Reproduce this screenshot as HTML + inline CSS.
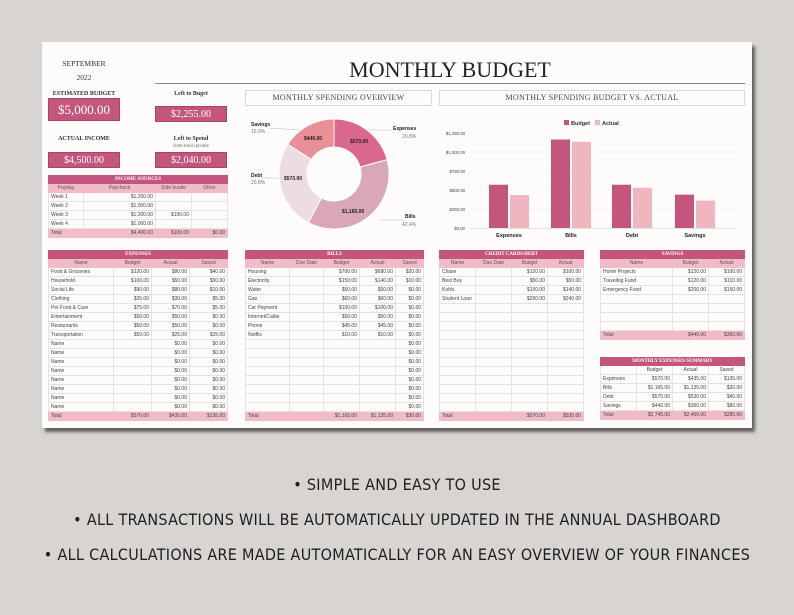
<!DOCTYPE html>
<html><head><meta charset="utf-8">
<style>
*{margin:0;padding:0;box-sizing:border-box}
body{width:794px;height:615px;background:#d7d4d1;position:relative;overflow:hidden;font-family:"Liberation Sans",sans-serif}
.card{position:absolute;left:42px;top:42px;width:710px;height:386px;background:#fdfcfb;box-shadow:3px 4px 3px rgba(0,0,0,.55)}
.a{position:absolute}
.serif{font-family:"Liberation Serif",serif}
.lbl{font-family:"Liberation Serif",serif;font-size:6px;font-weight:bold;color:#333;text-align:center}
.box{background:#c4567e;color:#fff;font-family:"Liberation Serif",serif;text-align:center;border:1px solid #a94468}
table{position:absolute;border-collapse:collapse;table-layout:fixed;font-size:5px;color:#444}
td{height:9px;border:1px solid #e8dfe1;padding:0 2px;white-space:nowrap;overflow:hidden;text-align:right;line-height:7px}
td:first-child{text-align:left}
tr.h td{background:#c4567e;color:#fff;text-align:center;font-family:"Liberation Serif",serif;font-weight:bold;height:8px;border-color:#c4567e}
tr.s td{background:#f1bcc8;text-align:center;color:#555;border-color:#f1bcc8}
tr.t td{background:#f1bcc8;border-color:#f1bcc8}
.bt{position:absolute;left:0;width:794px;text-align:center;font-family:"Liberation Sans Narrow","DejaVu Sans Condensed","Liberation Sans",sans-serif;font-size:16px;color:#1e1e1e;letter-spacing:.3px}
.ttl{position:absolute;border:1px solid #ddd6d6;font-family:"Liberation Serif",serif;font-size:8px;color:#444;text-align:center;line-height:14px;letter-spacing:.3px}
</style></head><body>
<div class="card"></div>
<div class="a serif" style="left:48px;top:59px;width:72px;text-align:center;font-size:7.5px;color:#333">SEPTEMBER</div>
<div class="a serif" style="left:48px;top:73px;width:72px;text-align:center;font-size:7.5px;color:#333">2022</div>
<div class="a serif" style="left:300px;top:57px;width:300px;text-align:center;font-size:22px;color:#222">MONTHLY BUDGET</div>
<div class="a" style="left:155px;top:83px;width:590px;height:1px;background:#888"></div>

<div class="a lbl" style="left:46px;top:91px;width:76px">ESTIMATED BUDGET</div>
<div class="a box" style="left:48px;top:98px;width:72px;height:23px;font-size:13px;line-height:22px">$5,000.00</div>
<div class="a lbl" style="left:155px;top:91px;width:72px">Left to Buget</div>
<div class="a box" style="left:155px;top:106px;width:72px;height:16px;font-size:10px;line-height:15px">$2,255.00</div>
<div class="a lbl" style="left:46px;top:136px;width:76px">ACTUAL INCOME</div>
<div class="a box" style="left:48px;top:152px;width:72px;height:16px;font-size:10px;line-height:15px">$4,500.00</div>
<div class="a lbl" style="left:155px;top:136px;width:72px">Left to Spend</div>
<div class="a serif" style="left:155px;top:144px;width:72px;text-align:center;font-size:5px;color:#666">from total income</div>
<div class="a box" style="left:155px;top:152px;width:72px;height:16px;font-size:10px;line-height:15px">$2,040.00</div>

<table style="left:48px;top:175px;width:179px">
<colgroup><col style="width:35px"><col style="width:72px"><col style="width:36px"><col style="width:36px"></colgroup>
<tr class="h"><td colspan="4">INCOME SOURCES</td></tr>
<tr class="s"><td style="text-align:center">Payday</td><td>Paycheck</td><td>Side hustle</td><td>Other</td></tr>
<tr><td>Week 1</td><td>$1,200.00</td><td></td><td></td></tr>
<tr><td>Week 2</td><td>$1,000.00</td><td></td><td></td></tr>
<tr><td>Week 3</td><td>$1,200.00</td><td>$100.00</td><td></td></tr>
<tr><td>Week 4</td><td>$1,000.00</td><td></td><td></td></tr>
<tr class="t"><td>Total</td><td>$4,400.00</td><td>$100.00</td><td>$0.00</td></tr>
</table>

<div class="ttl" style="left:245px;top:90px;width:187px;height:16px">MONTHLY SPENDING OVERVIEW</div>
<div class="ttl" style="left:439px;top:90px;width:306px;height:16px">MONTHLY SPENDING BUDGET VS. ACTUAL</div>

<svg class="a" style="left:0;top:0" width="794" height="615">
<g transform="translate(334,174)">
<!-- Expenses 0-20.8% : angle 0 to 74.9deg -->
<path d="M0,-55 A55,55 0 0 1 53.1,-14.3 L26.1,-7.0 A27,27 0 0 0 0,-27Z" fill="#d9678f" stroke="#fff" stroke-width="1"/>
<path d="M53.1,-14.3 A55,55 0 0 1 -25.6,48.7 L-12.6,23.9 A27,27 0 0 0 26.1,-7.0Z" fill="#d9a6ba" stroke="#fff" stroke-width="1"/>
<path d="M-25.6,48.7 A55,55 0 0 1 -46.3,-29.7 L-22.7,-14.6 A27,27 0 0 0 -12.6,23.9Z" fill="#ebdde1" stroke="#fff" stroke-width="1"/>
<path d="M-46.3,-29.7 A55,55 0 0 1 0,-55 L0,-27 A27,27 0 0 0 -22.7,-14.6Z" fill="#e98f95" stroke="#fff" stroke-width="1"/>
</g>
<g font-family="Liberation Sans,sans-serif" font-size="5px" font-weight="bold" fill="#222">
<text x="304" y="140">$440.00</text><text x="350" y="143">$570.00</text>
<text x="284" y="180">$570.00</text><text x="342" y="213">$1,165.00</text>
<text x="251" y="126">Savings</text><text x="393" y="130">Expenses</text>
<text x="251" y="177">Debt</text><text x="405" y="218">Bills</text>
</g>
<g font-family="Liberation Sans,sans-serif" font-size="5px" fill="#777">
<text x="251" y="133">16.0%</text><text x="402" y="138">20.8%</text>
<text x="251" y="184">20.8%</text><text x="402" y="226">42.4%</text>
</g>
<g stroke="#bbb" stroke-width=".5"><line x1="268" y1="128" x2="300" y2="130"/><line x1="368" y1="130" x2="392" y2="130"/><line x1="262" y1="178" x2="282" y2="178"/><line x1="380" y1="220" x2="404" y2="220"/></g>

<!-- bar chart -->
<g stroke="#eee" stroke-width=".6">
<line x1="470" y1="133" x2="737" y2="133"/><line x1="470" y1="152" x2="737" y2="152"/><line x1="470" y1="171" x2="737" y2="171"/><line x1="470" y1="190" x2="737" y2="190"/><line x1="470" y1="209" x2="737" y2="209"/></g>
<line x1="470" y1="228.5" x2="737" y2="228.5" stroke="#ccc" stroke-width=".6"/>
<g font-family="Liberation Sans,sans-serif" font-size="4.3px" fill="#444" text-anchor="end">
<text x="465" y="135">$1,250.00</text><text x="465" y="154">$1,000.00</text><text x="465" y="173">$750.00</text><text x="465" y="192">$500.00</text><text x="465" y="211">$250.00</text><text x="465" y="230">$0.00</text></g>
<rect x="564" y="120" width="5" height="5" fill="#c4567e"/><text x="571" y="125" font-family="Liberation Sans,sans-serif" font-size="5.5px" font-weight="bold" fill="#333">Budget</text>
<rect x="595" y="120" width="5" height="5" fill="#f0b6bf"/><text x="602" y="125" font-family="Liberation Sans,sans-serif" font-size="5.5px" font-weight="bold" fill="#333">Actual</text>
<g fill="#c4567e">
<rect x="489" y="184.7" width="19" height="43.3"/><rect x="551" y="139.5" width="19" height="88.5"/><rect x="612" y="184.7" width="19" height="43.3"/><rect x="675" y="194.6" width="19" height="33.4"/></g>
<g fill="#f0b6bf">
<rect x="510" y="195" width="19" height="33"/><rect x="572" y="141.7" width="19" height="86.3"/><rect x="633" y="187.7" width="19" height="40.3"/><rect x="696" y="200.6" width="19" height="27.4"/></g>
<g font-family="Liberation Sans,sans-serif" font-size="5.5px" font-weight="bold" fill="#222" text-anchor="middle">
<text x="509" y="237">Expenses</text><text x="571" y="237">Bills</text><text x="632" y="237">Debt</text><text x="695" y="237">Savings</text></g>
</svg>

<table style="left:48px;top:250px;width:179px">
<colgroup><col style="width:65px"><col style="width:38px"><col style="width:38px"><col style="width:38px"></colgroup>
<tr class="h"><td colspan="4">EXPENSES</td></tr>
<tr class="s"><td style="text-align:center">Name</td><td>Budget</td><td>Actual</td><td>Saved</td></tr>
<tr><td>Food &amp; Groceries</td><td>$120.00</td><td>$80.00</td><td>$40.00</td></tr>
<tr><td>Household</td><td>$100.00</td><td>$50.00</td><td>$50.00</td></tr>
<tr><td>Social Life</td><td>$90.00</td><td>$80.00</td><td>$10.00</td></tr>
<tr><td>Clothing</td><td>$35.00</td><td>$30.00</td><td>$5.00</td></tr>
<tr><td>Pet Food &amp; Care</td><td>$75.00</td><td>$70.00</td><td>$5.00</td></tr>
<tr><td>Entertainment</td><td>$50.00</td><td>$50.00</td><td>$0.00</td></tr>
<tr><td>Restaurants</td><td>$50.00</td><td>$50.00</td><td>$0.00</td></tr>
<tr><td>Transportation</td><td>$50.00</td><td>$25.00</td><td>$25.00</td></tr>
<tr><td>Name</td><td></td><td>$0.00</td><td>$0.00</td></tr>
<tr><td>Name</td><td></td><td>$0.00</td><td>$0.00</td></tr>
<tr><td>Name</td><td></td><td>$0.00</td><td>$0.00</td></tr>
<tr><td>Name</td><td></td><td>$0.00</td><td>$0.00</td></tr>
<tr><td>Name</td><td></td><td>$0.00</td><td>$0.00</td></tr>
<tr><td>Name</td><td></td><td>$0.00</td><td>$0.00</td></tr>
<tr><td>Name</td><td></td><td>$0.00</td><td>$0.00</td></tr>
<tr><td>Name</td><td></td><td>$0.00</td><td>$0.00</td></tr>
<tr class="t"><td>Total</td><td>$570.00</td><td>$435.00</td><td>$135.00</td></tr>
</table>

<table style="left:245px;top:250px;width:178px">
<colgroup><col style="width:44px"><col style="width:34px"><col style="width:36px"><col style="width:36px"><col style="width:28px"></colgroup>
<tr class="h"><td colspan="5">BILLS</td></tr>
<tr class="s"><td style="text-align:center">Name</td><td>Due Date</td><td>Budget</td><td>Actual</td><td>Saved</td></tr>
<tr><td>Housing</td><td></td><td>$700.00</td><td>$680.00</td><td>$20.00</td></tr>
<tr><td>Electricity</td><td></td><td>$150.00</td><td>$140.00</td><td>$10.00</td></tr>
<tr><td>Water</td><td></td><td>$50.00</td><td>$50.00</td><td>$0.00</td></tr>
<tr><td>Gas</td><td></td><td>$60.00</td><td>$60.00</td><td>$0.00</td></tr>
<tr><td>Car Payment</td><td></td><td>$100.00</td><td>$100.00</td><td>$0.00</td></tr>
<tr><td>Internet/Cable</td><td></td><td>$50.00</td><td>$50.00</td><td>$0.00</td></tr>
<tr><td>Phone</td><td></td><td>$45.00</td><td>$45.00</td><td>$0.00</td></tr>
<tr><td>Netflix</td><td></td><td>$10.00</td><td>$10.00</td><td>$0.00</td></tr>
<tr><td></td><td></td><td></td><td></td><td>$0.00</td></tr>
<tr><td></td><td></td><td></td><td></td><td>$0.00</td></tr>
<tr><td></td><td></td><td></td><td></td><td>$0.00</td></tr>
<tr><td></td><td></td><td></td><td></td><td>$0.00</td></tr>
<tr><td></td><td></td><td></td><td></td><td>$0.00</td></tr>
<tr><td></td><td></td><td></td><td></td><td>$0.00</td></tr>
<tr><td></td><td></td><td></td><td></td><td>$0.00</td></tr>
<tr><td></td><td></td><td></td><td></td><td>$0.00</td></tr>
<tr class="t"><td>Total</td><td></td><td>$1,165.00</td><td>$1,135.00</td><td>$30.00</td></tr>
</table>

<table style="left:439px;top:250px;width:144px">
<colgroup><col style="width:36px"><col style="width:36px"><col style="width:36px"><col style="width:36px"></colgroup>
<tr class="h"><td colspan="4">CREDIT CARDS/DEBT</td></tr>
<tr class="s"><td style="text-align:center">Name</td><td>Due Date</td><td>Budget</td><td>Actual</td></tr>
<tr><td>Chase</td><td></td><td>$120.00</td><td>$100.00</td></tr>
<tr><td>Best Buy</td><td></td><td>$50.00</td><td>$50.00</td></tr>
<tr><td>Kohls</td><td></td><td>$150.00</td><td>$140.00</td></tr>
<tr><td>Student Loan</td><td></td><td>$250.00</td><td>$240.00</td></tr>
<tr><td></td><td></td><td></td><td></td></tr><tr><td></td><td></td><td></td><td></td></tr>
<tr><td></td><td></td><td></td><td></td></tr><tr><td></td><td></td><td></td><td></td></tr>
<tr><td></td><td></td><td></td><td></td></tr><tr><td></td><td></td><td></td><td></td></tr>
<tr><td></td><td></td><td></td><td></td></tr><tr><td></td><td></td><td></td><td></td></tr>
<tr><td></td><td></td><td></td><td></td></tr><tr><td></td><td></td><td></td><td></td></tr>
<tr><td></td><td></td><td></td><td></td></tr><tr><td></td><td></td><td></td><td></td></tr>
<tr class="t"><td>Total</td><td></td><td>$570.00</td><td>$530.00</td></tr>
</table>

<table style="left:600px;top:250px;width:144px">
<colgroup><col style="width:72px"><col style="width:36px"><col style="width:36px"></colgroup>
<tr class="h"><td colspan="3">SAVINGS</td></tr>
<tr class="s"><td>Name</td><td>Budget</td><td>Actual</td></tr>
<tr><td>Home Projects</td><td>$120.00</td><td>$100.00</td></tr>
<tr><td>Traveling Fund</td><td>$120.00</td><td>$110.00</td></tr>
<tr><td>Emergency Fund</td><td>$200.00</td><td>$150.00</td></tr>
<tr><td></td><td></td><td></td></tr><tr><td></td><td></td><td></td></tr>
<tr><td></td><td></td><td></td></tr><tr><td></td><td></td><td></td></tr>
<tr class="t"><td>Total</td><td>$440.00</td><td>$360.00</td></tr>
</table>

<table style="left:600px;top:357px;width:144px">
<colgroup><col style="width:36px"><col style="width:36px"><col style="width:36px"><col style="width:36px"></colgroup>
<tr class="h"><td colspan="4">MONTHLY EXPENSES SUMMARY</td></tr>
<tr><td></td><td style="text-align:center">Budget</td><td style="text-align:center">Actual</td><td style="text-align:center">Saved</td></tr>
<tr><td>Expenses</td><td>$570.00</td><td>$435.00</td><td>$135.00</td></tr>
<tr><td>Bills</td><td>$1,165.00</td><td>$1,135.00</td><td>$30.00</td></tr>
<tr><td>Debt</td><td>$570.00</td><td>$530.00</td><td>$40.00</td></tr>
<tr><td>Savings</td><td>$440.00</td><td>$360.00</td><td>$80.00</td></tr>
<tr class="t"><td>Total</td><td>$2,745.00</td><td>$2,460.00</td><td>$285.00</td></tr>
</table>

<div class="bt" style="top:475px">• SIMPLE AND EASY TO USE</div>
<div class="bt" style="top:510px">• ALL TRANSACTIONS WILL BE AUTOMATICALLY UPDATED IN THE ANNUAL DASHBOARD</div>
<div class="bt" style="top:545px">• ALL CALCULATIONS ARE MADE AUTOMATICALLY FOR AN EASY OVERVIEW OF YOUR FINANCES</div>
</body></html>
